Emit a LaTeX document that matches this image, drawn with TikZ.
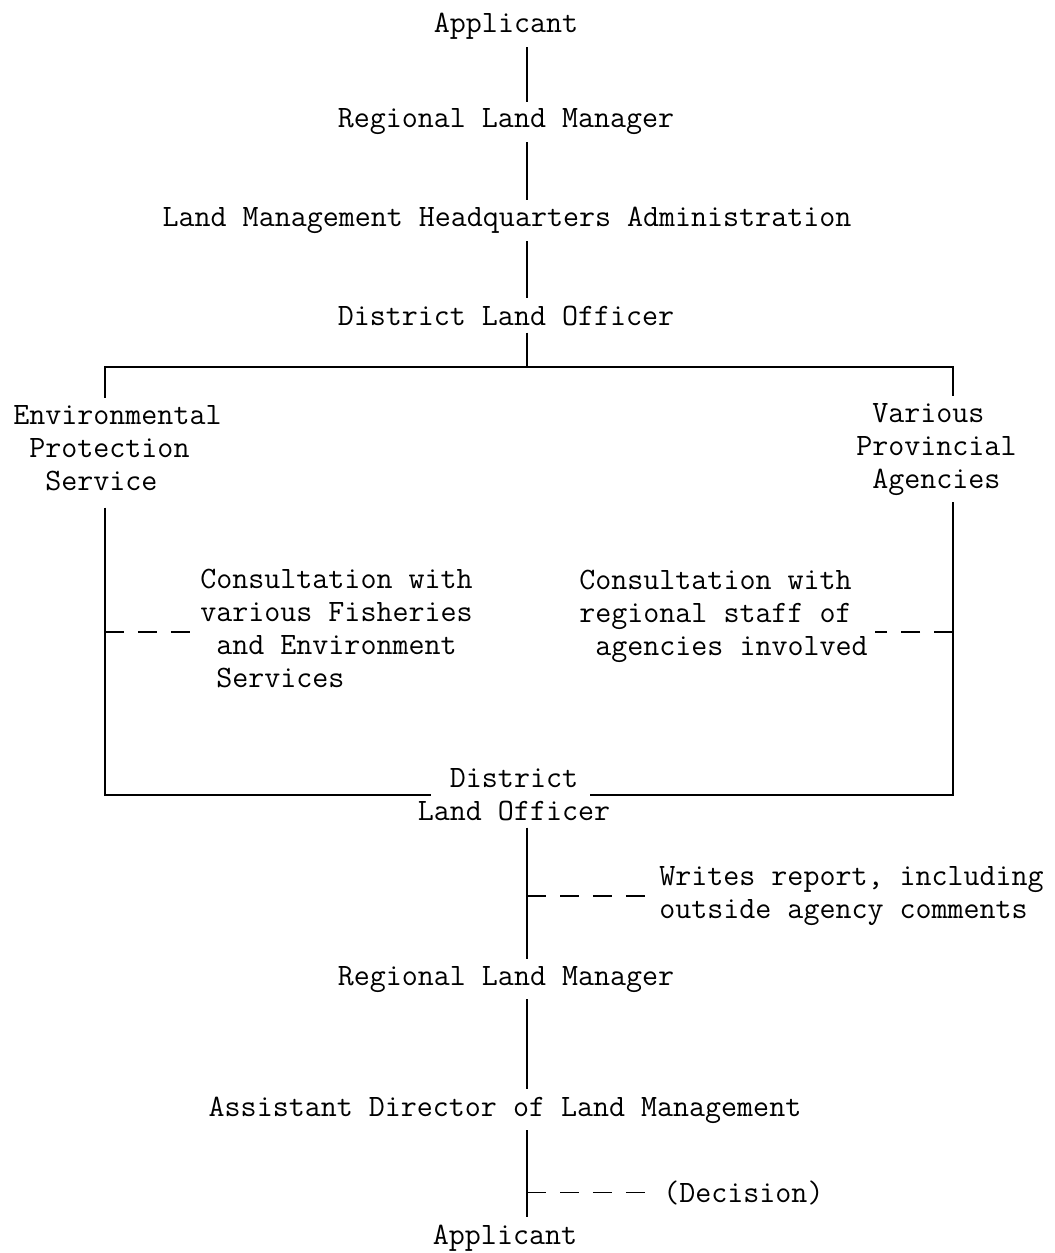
\documentclass[tikz,border=0pt]{standalone}
\usepackage{tikz}

\begin{document}
\begin{tikzpicture}[x=0.02cm,y=-0.02cm]
		\tikzset{txt/.style = {inner sep=0.14cm, font=\ttfamily\fontsize{17.7}{18.7}\selectfont},
			link/.style = {line width=1.1pt},
			note/.style = {link, dash pattern=on 0.38cm off 0.28cm}}
		\useasboundingbox (0,0) rectangle (1054,1253);
		\coordinate (S) at (527,0);
		\coordinate (TL) at (105,367);
		\coordinate (TR) at (953,367);
		\coordinate (BL) at (105,795);
		\coordinate (BR) at (953,795);
		\coordinate (LM) at (105,632);
		\coordinate (RM) at (953,632);
		\node[txt, anchor=base] (App) at (506,33) {Applicant};
		\node[txt, anchor=base] (RLM) at (506,128) {Regional Land Manager};
		\node[txt, anchor=base] (HQ) at (507,227) {Land Management Headquarters Administration};
		\node[txt, anchor=base] (DLO) at (506,325) {District Land Officer};
		\node[txt, anchor=base west, align=left] (EPS) at (6,490) {Environmental\\\hphantom{x}Protection\\\hphantom{xx}Service};
		\node[txt, anchor=base west, align=left] (VPA) at (849,488) {\hphantom{x}Various\\Provincial\\\hphantom{x}Agencies};
		\node[txt, anchor=base west, align=left] (CF) at (193,687) {Consultation with\\various Fisheries\\\hphantom{x}and Environment\\\hphantom{x}Services};
		\node[txt, anchor=base west, align=left] (CA) at (572,655) {Consultation with\\regional staff of\\\hphantom{x}agencies involved};
		\node[txt, anchor=base, align=left] (DLO2) at (514,820) {\hphantom{xx}District\\Land Officer};
		\node[txt, anchor=base west, align=left] (WR) at (652,918) {Writes report, including\\outside agency comments};
		\node[txt, anchor=base] (RLM2) at (506,985) {Regional Land Manager};
		\node[txt, anchor=base] (ADLM) at (505,1116) {Assistant Director of Land Management};
		\node[txt, anchor=base west] (Dec) at (656,1202) {(Decision)};
		\node[txt, anchor=base] (App2) at (505,1244) {Applicant};
		\coordinate (DW) at ([xshift=0.4cm]DLO2.west);
		\coordinate (DE) at ([xshift=-0.54cm]DLO2.east);
		\draw[link] (App.south -| S) -- (RLM.north -| S);
		\draw[link] (RLM.south -| S) -- (HQ.north -| S);
		\draw[link] (HQ.south -| S) -- (DLO.north -| S);
		\draw[link] (DLO.south -| S) -- (TL -| S);
		\draw[link] (EPS.north -| TL) -- (TL) -- (TR) -- (VPA.north -| TR);
		\draw[link, shorten <=0.2cm] (EPS.south -| BL) -- (BL) -- (DW |- BL);
		\draw[link] (VPA.south -| BR) -- (BR) -- (DE |- BR);
		\draw[note] (LM) -- (CF.west |- LM);
		\draw[note] (RM) -- (CA.east |- RM);
		\draw[link] (DLO2.south -| S) -- (RLM2.north -| S);
		\draw[note] (WR.west -| S) -- (WR.west);
		\draw[link] (RLM2.south -| S) -- (ADLM.north -| S);
		\draw[link] (ADLM.south -| S) -- (App2.north -| S);
		\draw[note] (Dec.west -| S) -- (Dec.west);
	\end{tikzpicture}
\end{document}
